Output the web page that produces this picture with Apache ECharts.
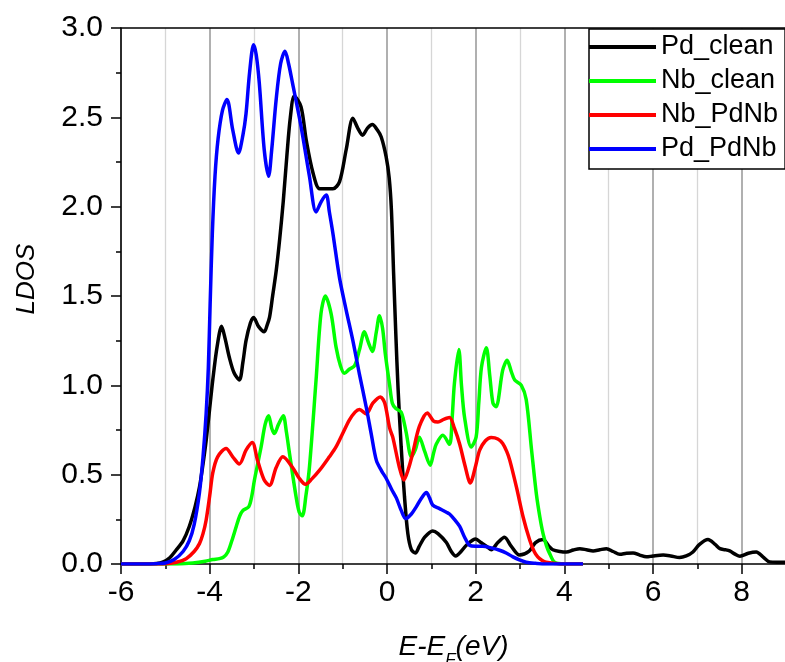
<!DOCTYPE html>
<html>
<head>
<meta charset="utf-8">
<script src="https://cdn.jsdelivr.net/npm/echarts@6/dist/echarts.min.js"></script>
<style>
html,body{margin:0;padding:0;background:#fff;}
#chart{width:785px;height:662px;}
</style>
</head>
<body>
<div id="chart"></div>
<script>
var seriesNames = ['Pd_clean', 'Nb_clean', 'Nb_PdNb', 'Pd_PdNb'];
var seriesColors = ['#000000', '#00ff00', '#ff0000', '#0000ff'];

var pdClean = [[-6,0],[-5.5,0],[-5.2,0.003],[-5.06,0.01],[-4.9,0.035],[-4.76,0.077],[-4.6,0.13],[-4.46,0.21],[-4.33,0.32],[-4.23,0.43],[-4.15,0.56],[-4.08,0.69],[-4.0,0.87],[-3.93,1.03],[-3.83,1.22],[-3.73,1.33],[-3.65,1.26],[-3.56,1.16],[-3.45,1.07],[-3.33,1.03],[-3.25,1.13],[-3.18,1.25],[-3.08,1.35],[-3.01,1.38],[-2.9,1.33],[-2.77,1.30],[-2.7,1.34],[-2.65,1.38],[-2.58,1.50],[-2.5,1.64],[-2.42,1.82],[-2.34,2.03],[-2.26,2.28],[-2.18,2.50],[-2.09,2.62],[-1.94,2.56],[-1.82,2.37],[-1.67,2.19],[-1.52,2.10],[-1.35,2.10],[-1.22,2.10],[-1.07,2.14],[-0.92,2.32],[-0.77,2.495],[-0.66,2.44],[-0.55,2.40],[-0.44,2.44],[-0.33,2.46],[-0.22,2.43],[-0.13,2.39],[-0.02,2.28],[0.05,2.16],[0.10,1.98],[0.15,1.62],[0.20,1.28],[0.25,0.98],[0.32,0.655],[0.395,0.375],[0.47,0.17],[0.55,0.08],[0.64,0.062],[0.73,0.10],[0.85,0.15],[1.03,0.185],[1.15,0.17],[1.34,0.12],[1.45,0.07],[1.55,0.045],[1.67,0.07],[1.79,0.105],[2.0,0.14],[2.12,0.12],[2.24,0.10],[2.35,0.08],[2.5,0.12],[2.65,0.15],[2.8,0.10],[2.99,0.05],[3.2,0.07],[3.35,0.12],[3.52,0.137],[3.65,0.10],[3.74,0.08],[3.9,0.07],[4.05,0.067],[4.2,0.078],[4.35,0.086],[4.5,0.08],[4.65,0.073],[4.8,0.08],[4.95,0.086],[5.1,0.07],[5.25,0.054],[5.4,0.06],[5.55,0.062],[5.7,0.05],[5.85,0.04],[6.0,0.045],[6.23,0.05],[6.4,0.045],[6.6,0.036],[6.75,0.045],[6.9,0.067],[7.05,0.11],[7.24,0.137],[7.4,0.11],[7.51,0.086],[7.63,0.08],[7.73,0.073],[7.85,0.055],[7.96,0.043],[8.15,0.06],[8.33,0.067],[8.48,0.04],[8.63,0.012],[8.8,0.01],[9.0,0.01]];

var nbClean = [[-6,0],[-5,0],[-4.6,0.002],[-4.38,0.005],[-4.1,0.015],[-3.93,0.025],[-3.78,0.03],[-3.68,0.04],[-3.59,0.067],[-3.5,0.13],[-3.40,0.21],[-3.32,0.27],[-3.25,0.30],[-3.12,0.32],[-3.05,0.38],[-2.99,0.47],[-2.84,0.655],[-2.75,0.78],[-2.67,0.83],[-2.60,0.76],[-2.54,0.73],[-2.45,0.78],[-2.34,0.83],[-2.27,0.74],[-2.20,0.62],[-2.05,0.375],[-1.98,0.29],[-1.91,0.27],[-1.83,0.38],[-1.75,0.54],[-1.60,1.03],[-1.49,1.40],[-1.39,1.50],[-1.26,1.40],[-1.15,1.215],[-1.05,1.11],[-0.96,1.067],[-0.85,1.09],[-0.73,1.11],[-0.62,1.20],[-0.51,1.30],[-0.42,1.24],[-0.33,1.19],[-0.24,1.30],[-0.17,1.39],[-0.10,1.32],[-0.04,1.18],[0.06,1.0],[0.12,0.90],[0.20,0.87],[0.32,0.85],[0.43,0.74],[0.55,0.60],[0.64,0.64],[0.73,0.71],[0.85,0.63],[0.975,0.553],[1.05,0.62],[1.11,0.67],[1.26,0.72],[1.41,0.67],[1.47,0.82],[1.52,1.01],[1.62,1.20],[1.68,1.0],[1.75,0.82],[1.90,0.655],[2.01,0.71],[2.07,0.9],[2.13,1.10],[2.24,1.21],[2.32,1.05],[2.39,0.90],[2.46,0.88],[2.61,1.085],[2.71,1.14],[2.80,1.08],[2.88,1.03],[3.03,1.00],[3.14,0.92],[3.26,0.64],[3.37,0.39],[3.45,0.26],[3.52,0.17],[3.60,0.10],[3.67,0.058],[3.78,0.01],[4.0,0.0],[4.42,0]];

var nbPdNb = [[-6,0],[-5.2,0],[-4.96,0.002],[-4.75,0.01],[-4.53,0.03],[-4.35,0.07],[-4.23,0.114],[-4.15,0.17],[-4.08,0.245],[-4.0,0.38],[-3.93,0.51],[-3.82,0.60],[-3.63,0.646],[-3.48,0.60],[-3.33,0.56],[-3.18,0.637],[-3.04,0.68],[-2.92,0.58],[-2.77,0.47],[-2.65,0.44],[-2.50,0.54],[-2.35,0.60],[-2.13,0.54],[-1.98,0.48],[-1.84,0.446],[-1.70,0.475],[-1.52,0.525],[-1.30,0.60],[-1.15,0.655],[-1.0,0.73],[-0.85,0.805],[-0.72,0.85],[-0.62,0.865],[-0.47,0.84],[-0.32,0.90],[-0.15,0.935],[-0.05,0.90],[0.06,0.76],[0.13,0.71],[0.28,0.54],[0.38,0.47],[0.48,0.53],[0.58,0.62],[0.73,0.77],[0.91,0.845],[1.05,0.80],[1.15,0.795],[1.28,0.81],[1.41,0.82],[1.52,0.76],[1.64,0.67],[1.76,0.55],[1.88,0.454],[2.0,0.55],[2.09,0.637],[2.22,0.69],[2.35,0.708],[2.50,0.70],[2.61,0.674],[2.70,0.63],[2.77,0.58],[2.92,0.43],[3.07,0.263],[3.22,0.133],[3.32,0.07],[3.40,0.04],[3.50,0.02],[3.59,0.01],[3.8,0.003],[4.0,0],[4.42,0]];

var pdPdNb = [[-6,0],[-5.5,0],[-5.2,0.002],[-5.0,0.006],[-4.8,0.025],[-4.6,0.07],[-4.46,0.13],[-4.35,0.22],[-4.23,0.40],[-4.15,0.6],[-4.08,0.84],[-4.03,1.1],[-3.99,1.45],[-3.94,1.85],[-3.88,2.17],[-3.81,2.38],[-3.71,2.54],[-3.61,2.60],[-3.48,2.43],[-3.35,2.30],[-3.25,2.40],[-3.18,2.52],[-3.1,2.75],[-3.01,2.906],[-2.95,2.85],[-2.88,2.69],[-2.77,2.32],[-2.67,2.17],[-2.60,2.32],[-2.50,2.60],[-2.40,2.80],[-2.30,2.87],[-2.22,2.80],[-2.13,2.69],[-1.94,2.45],[-1.75,2.17],[-1.60,1.97],[-1.48,2.03],[-1.37,2.065],[-1.30,1.97],[-1.22,1.85],[-1.07,1.60],[-0.92,1.42],[-0.77,1.25],[-0.62,1.06],[-0.47,0.88],[-0.35,0.72],[-0.24,0.58],[-0.12,0.52],[-0.02,0.48],[0.1,0.42],[0.21,0.37],[0.32,0.30],[0.42,0.254],[0.55,0.28],[0.66,0.32],[0.78,0.37],[0.89,0.40],[0.96,0.37],[1.03,0.33],[1.185,0.31],[1.34,0.29],[1.41,0.28],[1.52,0.25],[1.64,0.21],[1.75,0.15],[1.86,0.105],[2.0,0.10],[2.16,0.10],[2.35,0.09],[2.54,0.077],[2.70,0.06],[2.84,0.04],[3.0,0.022],[3.14,0.01],[3.35,0.004],[3.59,0],[4.0,0],[4.42,0]];

var seriesData = [pdClean, nbClean, nbPdNb, pdPdNb];

var xMin = -6, xMax = 9, xInterval = 2;
var yMin = 0, yMax = 3, yInterval = 0.5;

var FONT = 'Liberation Sans, Arial, sans-serif';
var chart = echarts.init(document.getElementById('chart'));

var option = {
  backgroundColor: '#ffffff',
  animation: false,
  grid: { left: 121, width: 665, top: 28, bottom: 98, containLabel: false, outerBoundsMode: 'none' },
  legend: {
    orient: 'vertical',
    left: 589,
    top: 29,
    data: seriesNames,
    icon: 'rect',
    itemWidth: 67,
    itemHeight: 4,
    itemGap: 4,
    padding: [3, 7, 5, 0],
    borderColor: '#000',
    borderWidth: 1.5,
    backgroundColor: '#fff',
    textStyle: { fontFamily: FONT, fontSize: 27, color: '#000', lineHeight: 30 }
  },
  xAxis: [{
    type: 'value',
    min: xMin, max: xMax, interval: xInterval,
    name: '{i|E-E}{s|F}{i|(eV)}',
    nameLocation: 'middle',
    nameGap: 69,
    nameTextStyle: {
      rich: {
        i: { fontFamily: FONT, fontStyle: 'italic', fontSize: 28, color: '#000', verticalAlign: 'top' },
        s: { fontFamily: FONT, fontStyle: 'italic', fontSize: 17, color: '#000', verticalAlign: 'top', padding: [19, 0, 0, 0] }
      }
    },
    axisLine: { show: true, onZero: false, lineStyle: { color: '#000', width: 1.5 } },
    axisTick: { show: true, inside: false, length: 10, lineStyle: { color: '#000', width: 1.5 } },
    minorTick: { show: true, splitNumber: 2, length: 5, lineStyle: { color: '#000', width: 1.5 } },
    axisLabel: { fontFamily: FONT, fontSize: 30, color: '#000', margin: 14, showMaxLabel: false,
      formatter: function (v) { return String(v); } },
    splitLine: { show: true, lineStyle: { color: '#a8a8a8', width: 1.8 } },
    minorSplitLine: { show: true, lineStyle: { color: '#d6d6d6', width: 1.3 } }
  }, {
    type: 'value', position: 'top',
    min: xMin, max: xMax, interval: xInterval,
    axisLine: { show: true, onZero: false, lineStyle: { color: '#000', width: 1.5 } },
    axisTick: { show: false }, axisLabel: { show: false }, splitLine: { show: false }
  }],
  yAxis: {
    type: 'value',
    min: yMin, max: yMax, interval: yInterval,
    axisLine: { show: true, onZero: false, lineStyle: { color: '#000', width: 1.5 } },
    axisTick: { show: true, inside: false, length: 10, lineStyle: { color: '#000', width: 1.5 } },
    minorTick: { show: true, splitNumber: 2, length: 5, lineStyle: { color: '#000', width: 1.5 } },
    axisLabel: { fontFamily: FONT, fontSize: 30, color: '#000', margin: 18,
      formatter: function (v) { return v.toFixed(1); } },
    splitLine: { show: false }
  },
  graphic: [{
    type: 'text',
    x: 27, y: 279,
    rotation: Math.PI / 2,
    style: {
      text: 'LDOS',
      fontFamily: FONT, fontStyle: 'italic', fontSize: 26, fill: '#000',
      textAlign: 'center', textVerticalAlign: 'middle'
    }
  }],
  series: seriesNames.map(function (name, i) {
    return {
      name: name,
      type: 'line',
      xAxisIndex: 0,
      data: seriesData[i],
      smooth: 0.3,
      showSymbol: false,
      symbol: 'none',
      lineStyle: { color: seriesColors[i], width: 3.5 },
      itemStyle: { color: seriesColors[i] }
    };
  })
};
chart.setOption(option);
</script>
</body>
</html>
